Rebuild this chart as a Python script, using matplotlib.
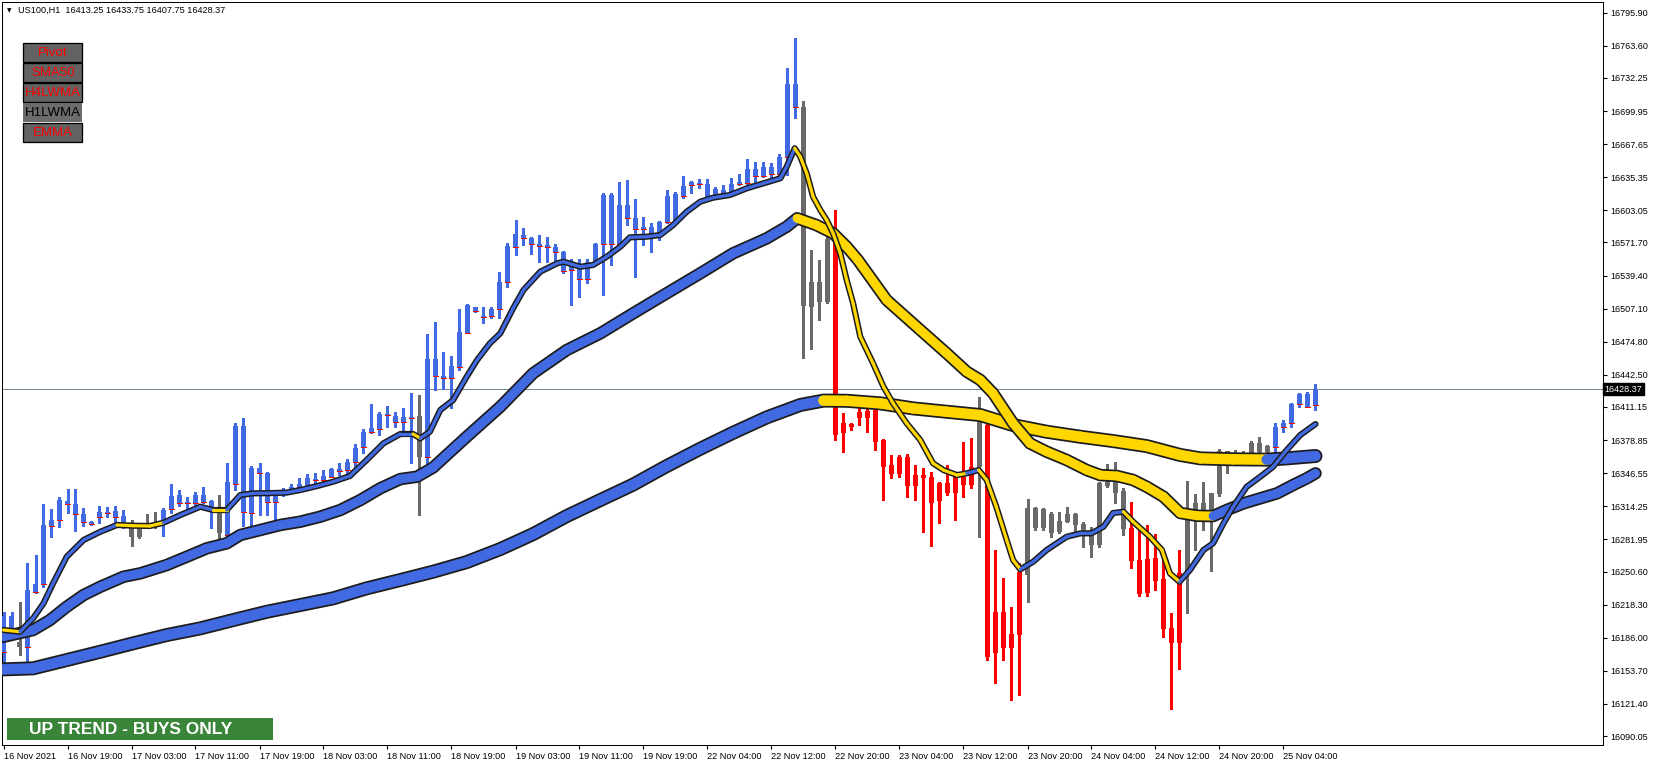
import matplotlib
matplotlib.use("Agg")
import matplotlib.pyplot as plt
from matplotlib.patches import Rectangle
from matplotlib.collections import LineCollection
from matplotlib.transforms import blended_transform_factory
import numpy as np

# ---------------- data (US100, H1) ----------------
opens = [16172.5, 16207.5, 16182.1, 16177.2, 16230.9, 16238.4, 16295.3, 16300.8, 16316.2, 16316.4,
         16306.7, 16296.9, 16304.1, 16307.9, 16304.1, 16305.0, 16292.7, 16292.7, 16297.6, 16297.9,
         16299.9, 16311.3, 16317.1, 16317.7, 16317.7, 16318.7, 16319.4, 16307.4, 16286.2, 16336.0,
         16392.9, 16307.4, 16351.3, 16347.0, 16318.1, 16327.9, 16330.8, 16332.7, 16334.0, 16339.9,
         16339.9, 16343.1, 16348.6, 16349.6, 16357.7, 16371.8, 16386.4, 16389.3, 16403.3, 16402.3,
         16396.2, 16400.1, 16402.3, 16362.0, 16457.7, 16441.7, 16439.7, 16450.4, 16483.6, 16508.4,
         16499.9, 16499.9, 16506.7, 16533.4, 16567.5, 16578.9, 16576.3, 16569.9, 16569.2, 16567.0,
         16562.1, 16544.8, 16549.7, 16535.7, 16552.9, 16570.2, 16618.0, 16569.9, 16608.2, 16595.3,
         16584.5, 16586.5, 16582.2, 16591.9, 16592.9, 16617.5, 16627.8, 16629.4, 16628.7, 16615.8,
         16622.9, 16620.4, 16628.5, 16630.2, 16643.2, 16637.0, 16645.3, 16638.2, 16655.4, 16726.3,
         16703.6, 16509.0, 16533.4, 16513.9, 16574.1, 16395.2, 16394.5, 16400.1, 16407.2, 16408.2,
         16378.9, 16354.5, 16345.7, 16362.6, 16334.3, 16344.7, 16343.1, 16336.6, 16336.6, 16326.9,
         16343.1, 16335.0, 16352.8, 16393.5, 16170.7, 16211.3, 16175.6, 16188.6, 16247.2, 16312.2,
         16292.7, 16306.7, 16289.4, 16299.2, 16306.4, 16296.9, 16289.4, 16276.4, 16338.2, 16327.5,
         16329.1, 16292.8, 16261.8, 16229.9, 16264.2, 16243.3, 16195.4, 16181.1, 16248.8, 16305.7,
         16317.7, 16308.9, 16326.2, 16368.2, 16363.3, 16366.2, 16366.5, 16375.7, 16367.5, 16371.8,
         16391.3, 16395.2, 16414.0, 16423.8, 16413.25]
highs = [16211.0, 16211.0, 16221.1, 16258.6, 16266.7, 16316.4, 16311.6, 16323.0, 16331.1, 16331.1,
         16312.2, 16299.5, 16314.5, 16313.8, 16314.8, 16310.6, 16300.8, 16297.6, 16306.4, 16308.3,
         16312.2, 16336.0, 16330.1, 16323.6, 16328.5, 16332.7, 16320.3, 16325.2, 16356.8, 16395.2,
         16400.1, 16353.5, 16356.2, 16348.0, 16328.5, 16332.0, 16335.7, 16341.5, 16345.7, 16347.0,
         16349.6, 16351.9, 16356.2, 16360.1, 16374.7, 16389.3, 16413.7, 16406.5, 16412.1, 16406.5,
         16409.8, 16424.5, 16422.8, 16482.4, 16493.8, 16465.1, 16460.9, 16506.7, 16511.6, 16509.0,
         16509.0, 16509.0, 16543.2, 16570.9, 16593.6, 16586.1, 16577.3, 16578.9, 16576.7, 16570.2,
         16563.0, 16555.5, 16555.5, 16555.2, 16571.5, 16620.2, 16620.2, 16630.4, 16632.6, 16613.8,
         16596.8, 16591.0, 16592.9, 16622.9, 16620.6, 16636.5, 16631.9, 16633.3, 16633.6, 16625.5,
         16627.8, 16634.3, 16638.5, 16653.1, 16649.9, 16649.9, 16648.9, 16657.8, 16741.6, 16770.9,
         16709.7, 16564.3, 16554.6, 16577.3, 16603.4, 16405.0, 16395.2, 16411.4, 16411.4, 16409.8,
         16379.6, 16364.3, 16364.3, 16365.0, 16354.5, 16351.3, 16348.0, 16338.2, 16354.5, 16346.4,
         16377.2, 16381.1, 16421.2, 16396.8, 16271.6, 16243.9, 16216.2, 16258.6, 16321.0, 16313.8,
         16312.2, 16308.9, 16308.9, 16313.8, 16307.4, 16299.2, 16294.3, 16338.2, 16355.2, 16357.1,
         16331.8, 16318.1, 16291.1, 16296.0, 16287.2, 16265.0, 16209.8, 16271.6, 16338.9, 16326.2,
         16337.6, 16327.5, 16370.1, 16368.5, 16369.0, 16368.0, 16377.9, 16382.1, 16374.0, 16395.2,
         16398.4, 16415.3, 16424.5, 16425.8, 16433.75]
lows = [16162.3, 16186.7, 16169.1, 16154.4, 16229.6, 16235.7, 16284.5, 16294.3, 16307.4, 16290.4,
        16295.3, 16296.0, 16297.6, 16304.1, 16299.2, 16293.0, 16275.8, 16283.0, 16292.7, 16292.7,
        16285.5, 16307.4, 16314.5, 16307.4, 16315.5, 16317.1, 16292.7, 16281.3, 16284.5, 16330.1,
        16295.3, 16294.3, 16305.7, 16305.7, 16299.2, 16324.0, 16330.1, 16331.8, 16333.3, 16336.6,
        16339.2, 16342.5, 16344.7, 16347.0, 16352.8, 16366.5, 16385.4, 16383.8, 16391.9, 16391.9,
        16386.0, 16356.2, 16305.7, 16354.5, 16427.7, 16428.4, 16409.8, 16447.2, 16483.0, 16504.1,
        16492.8, 16497.7, 16497.7, 16527.9, 16559.4, 16569.2, 16560.1, 16552.9, 16552.9, 16552.9,
        16541.6, 16510.7, 16518.8, 16532.4, 16552.9, 16520.4, 16549.7, 16569.2, 16588.7, 16537.7,
        16569.2, 16562.7, 16574.1, 16591.0, 16590.4, 16615.1, 16619.7, 16624.5, 16614.8, 16615.4,
        16618.0, 16619.7, 16627.8, 16628.7, 16629.4, 16635.9, 16635.9, 16636.3, 16637.5, 16693.4,
        16458.6, 16467.7, 16496.0, 16512.3, 16378.9, 16367.2, 16388.7, 16393.5, 16387.0, 16369.1,
        16320.3, 16341.5, 16343.1, 16323.0, 16320.3, 16289.4, 16275.8, 16298.2, 16325.2, 16300.8,
        16323.6, 16331.8, 16284.5, 16164.2, 16141.5, 16164.2, 16125.2, 16130.0, 16221.1, 16291.1,
        16291.1, 16284.5, 16287.8, 16299.2, 16287.8, 16274.8, 16265.0, 16274.8, 16333.3, 16317.1,
        16286.2, 16253.7, 16227.0, 16227.0, 16232.5, 16186.7, 16116.1, 16155.1, 16209.8, 16271.6,
        16291.1, 16251.4, 16324.3, 16347.0, 16358.0, 16358.0, 16365.9, 16365.9, 16366.9, 16368.5,
        16387.0, 16391.9, 16410.8, 16410.8, 16407.75]
closes = [16207.1, 16193.5, 16177.2, 16232.5, 16238.4, 16296.0, 16300.8, 16320.3, 16319.4, 16306.7,
          16299.2, 16298.6, 16308.3, 16308.9, 16309.6, 16297.6, 16284.5, 16284.5, 16294.3, 16295.0,
          16310.6, 16324.3, 16325.2, 16318.2, 16325.2, 16325.2, 16313.5, 16287.8, 16338.2, 16392.9,
          16308.3, 16351.3, 16346.4, 16318.1, 16327.9, 16330.1, 16332.7, 16336.0, 16341.5, 16340.8,
          16343.8, 16350.6, 16350.3, 16357.1, 16371.4, 16386.4, 16390.3, 16404.3, 16404.3, 16396.2,
          16401.1, 16401.4, 16362.6, 16457.7, 16441.7, 16439.7, 16451.1, 16484.6, 16510.7, 16505.1,
          16499.2, 16506.7, 16533.4, 16568.5, 16579.9, 16575.7, 16569.9, 16568.5, 16567.0, 16562.1,
          16544.1, 16549.7, 16535.7, 16552.9, 16570.2, 16618.0, 16569.9, 16608.2, 16595.3, 16584.5,
          16586.5, 16581.2, 16591.9, 16617.0, 16618.7, 16626.8, 16630.7, 16628.4, 16615.6, 16623.9,
          16620.0, 16628.7, 16630.4, 16643.2, 16636.8, 16645.3, 16638.2, 16655.4, 16726.3, 16703.6,
          16509.7, 16532.8, 16513.9, 16575.1, 16383.8, 16385.4, 16391.9, 16406.5, 16400.1, 16377.2,
          16352.8, 16345.4, 16362.6, 16334.3, 16344.7, 16341.5, 16317.7, 16319.7, 16326.9, 16343.1,
          16335.0, 16352.8, 16396.8, 16167.4, 16211.3, 16175.6, 16189.6, 16250.4, 16312.2, 16292.7,
          16311.3, 16288.4, 16300.2, 16306.4, 16296.0, 16291.1, 16276.4, 16336.6, 16334.0, 16338.2,
          16292.1, 16260.8, 16228.6, 16262.8, 16241.6, 16194.2, 16181.1, 16248.8, 16300.8, 16317.7,
          16308.9, 16327.5, 16368.2, 16363.3, 16366.2, 16362.0, 16375.7, 16366.9, 16373.1, 16391.3,
          16395.2, 16414.0, 16423.8, 16411.4, 16428.37]
# candle colouring state: b = up-trend bar, r = down-trend bar, g = neutral bar
bar_state = list("bb" "g" "bbbbbbbbbbbbb" "gggg" "bbbbbbb" "g"
                 "bbbbbbbbbbbbbbbbbbbbbbbb" "g"
                 "bbbbbbbbbbbbbbbbbbbbbbbbbbbbbbbbbbbbbbbbbbbbbbb" "gggg"
                 "rrrrrrrrrrrrrrrrrr" "g" "rrrrr" "ggggggggggggg" "rrrrrrr"
                 "ggggggggggg" "bbbbbb")

time_labels = ["16 Nov 2021", "16 Nov 19:00", "17 Nov 03:00", "17 Nov 11:00", "17 Nov 19:00",
               "18 Nov 03:00", "18 Nov 11:00", "18 Nov 19:00", "19 Nov 03:00", "19 Nov 11:00",
               "19 Nov 19:00", "22 Nov 04:00", "22 Nov 12:00", "22 Nov 20:00", "23 Nov 04:00",
               "23 Nov 12:00", "23 Nov 20:00", "24 Nov 04:00", "24 Nov 12:00", "24 Nov 20:00",
               "25 Nov 04:00"]
price_ticks = [16795.90, 16763.60, 16732.25, 16699.95, 16667.65, 16635.35, 16603.05, 16571.70,
               16539.40, 16507.10, 16474.80, 16442.50, 16411.15, 16378.85, 16346.55, 16314.25,
               16281.95, 16250.60, 16218.30, 16186.00, 16153.70, 16121.40, 16090.05]
last_price = 16428.37

# moving averages (bar position, value) and bar ranges where they were falling
fast_ma_bar = [0, 2.06, 3.7, 5.0, 6.2, 7.9, 10.0, 12.1, 14.2, 16.2, 18.3, 20.0, 22.1, 24.6, 26.2,
               27.9, 29.6, 31.2, 32.9, 34.2, 35.4, 37.1, 39.2, 41.2, 43.3, 45.4, 47.5, 49.6, 51.2,
               52.1, 53.3, 54.6, 56.2, 57.9, 59.2, 60.8, 62.1, 63.7, 65.0, 67.1, 69.2, 70.0, 72.1,
               73.7, 75.4, 77.1, 78.3, 80.4, 82.1, 83.7, 85.4, 87.1, 88.7, 90.8, 92.9, 95.0, 97.1,
               97.9, 98.9, 99.6, 100.4, 101.2, 102.1, 102.9, 103.7, 104.6, 105.4, 106.2, 107.1,
               108.7, 110.0, 111.2, 112.9, 114.6, 116.2, 117.5, 119.2, 120.4, 121.9, 122.9, 124.1,
               125.4, 126.2, 127.1, 128.7, 130.4, 132.9, 134.6, 136.0, 137.5, 138.7, 140.0, 141.2,
               143.3, 144.8, 145.8, 147.0, 148.3, 150.0, 151.2, 152.5, 153.7, 155.4, 157.1, 158.7,
               160.4, 162.1, 164.0]
fast_ma_val = [16193.5, 16191.8, 16204.9, 16219.5, 16239.1, 16265.0, 16281.3, 16289.4, 16296.0,
               16295.3, 16295.0, 16298.2, 16305.7, 16313.8, 16310.6, 16310.6, 16325.2, 16326.9,
               16327.0, 16327.3, 16327.6, 16330.1, 16334.0, 16338.2, 16343.8, 16359.4, 16375.7,
               16384.8, 16384.8, 16380.6, 16387.0, 16408.2, 16417.9, 16440.7, 16457.0, 16473.3,
               16483.0, 16507.4, 16525.3, 16543.2, 16551.3, 16552.9, 16548.0, 16549.7, 16557.8,
               16567.5, 16576.7, 16577.3, 16579.0, 16588.7, 16601.7, 16611.5, 16615.4, 16618.0,
               16624.5, 16629.4, 16634.3, 16645.6, 16663.6, 16655.4, 16639.2, 16616.3, 16603.4,
               16593.6, 16580.6, 16561.1, 16535.0, 16512.3, 16479.7, 16453.7, 16430.9, 16414.7,
               16395.2, 16378.9, 16356.2, 16349.6, 16344.7, 16346.4, 16349.6, 16339.9, 16313.8,
               16281.3, 16261.8, 16252.7, 16260.1, 16271.6, 16284.5, 16287.8, 16287.9, 16294.3,
               16307.7, 16308.9, 16299.2, 16284.5, 16271.6, 16248.8, 16240.6, 16252.0, 16271.6,
               16278.1, 16297.6, 16313.8, 16333.3, 16343.1, 16352.8, 16369.1, 16383.8, 16394.5]
fast_ma_falling = [(0, 2.1), (15.0, 19.2), (25.8, 27.1), (50.8, 52.1), (98.9, 121.1),
                   (122.1, 127.1), (140.0, 147.0)]

mid_ma_bar = [0, 3.7, 5.8, 7.9, 10.0, 12.1, 15.0, 17.1, 20.4, 22.9, 25.4, 27.9, 29.6, 32.1, 34.6,
              37.1, 39.6, 42.1, 44.6, 47.1, 49.6, 51.7, 53.7, 57.9, 62.1, 66.2, 70.4, 74.6, 78.7,
              82.9, 87.1, 91.2, 95.4, 97.9, 99.2, 101.6, 103.7, 105.4, 106.8, 110.4, 114.6, 117.9,
              120.4, 122.1, 123.7, 126.2, 128.3, 130.4, 132.9, 135.4, 137.1, 139.2, 141.2, 142.9,
              145.0, 147.1, 149.2, 151.2, 152.9, 155.0, 157.1, 159.2, 161.2, 162.9, 164.0]
mid_ma_val = [16186.9, 16193.5, 16203.2, 16216.2, 16227.6, 16235.7, 16245.5, 16248.8, 16256.9,
              16265.0, 16273.2, 16278.1, 16286.2, 16291.1, 16296.0, 16299.2, 16304.1, 16310.6,
              16320.3, 16331.8, 16340.8, 16343.1, 16352.1, 16382.1, 16411.4, 16444.0, 16466.7,
              16483.0, 16502.5, 16522.1, 16541.6, 16561.1, 16575.7, 16587.1, 16595.3, 16588.7,
              16580.6, 16567.5, 16554.6, 16515.5, 16486.3, 16463.5, 16445.6, 16437.5, 16424.5,
              16395.2, 16375.7, 16367.5, 16359.4, 16349.6, 16344.7, 16343.8, 16339.9, 16333.3,
              16323.6, 16307.7, 16305.0, 16304.7, 16310.6, 16317.1, 16322.0, 16326.9, 16335.0,
              16341.5, 16346.4]
mid_ma_falling = [(98.7, 151.4)]

slow_ma_bar = [0, 3.7, 7.9, 12.1, 16.2, 20.4, 24.6, 28.7, 32.9, 37.1, 41.2, 45.4, 49.6, 53.7,
               57.9, 62.1, 66.2, 70.4, 74.6, 78.7, 82.9, 87.1, 91.2, 95.4, 99.6, 102.5, 105.4,
               109.6, 113.7, 117.9, 122.1, 126.2, 130.4, 134.6, 138.7, 142.9, 147.1, 149.6, 153.7,
               157.9, 160.4, 162.9, 164.0]
slow_ma_val = [16155.1, 16156.1, 16164.2, 16172.3, 16180.5, 16188.6, 16195.1, 16203.2, 16211.3,
               16217.9, 16224.4, 16234.2, 16242.3, 16250.4, 16259.8, 16272.5, 16287.1, 16304.7,
               16320.3, 16335.4, 16353.5, 16370.4, 16386.0, 16401.0, 16413.1, 16417.4, 16417.2,
               16414.7, 16409.8, 16406.5, 16403.3, 16393.5, 16387.0, 16382.1, 16377.9, 16373.0,
               16364.3, 16361.0, 16360.1, 16359.8, 16361.0, 16362.6, 16363.3]
slow_ma_falling = [(102.5, 158.0)]

buttons = ["Pivot", "SMA50", "H4LWMA", "H1LWMA", "EMMA"]
active_button = "H1LWMA"
symbol_title = "US100,H1  16413.25 16433.75 16407.75 16428.37"
trend_text = "UP TREND - BUYS ONLY"

# ---------------- styling ----------------
plt.rcParams['font.family'] = ['Liberation Sans', 'DejaVu Sans']
BLUE = '#4169E1'
RED = '#FF0000'
GRAY = '#696969'
YELLOW = '#FFD700'
OUTLINE = '#1c1c1c'
state_color = {'b': BLUE, 'r': RED, 'g': GRAY}

W, H = 1654, 761
PX = 0.72  # points per pixel at 100 dpi
fig = plt.figure(figsize=(W / 100, H / 100), dpi=100)
fig.patch.set_facecolor('white')

L_px, R_px, T_px, B_px = 2, 1603, 2, 745
ax = fig.add_axes([L_px / W, 1 - B_px / H, (R_px - L_px) / W, (B_px - T_px) / H])
bar_px, first_px = 8.0, 3.5
ax.set_xlim((L_px - first_px) / bar_px, (R_px - first_px) / bar_px)
ax.set_ylim(16081.3, 16806.35)
ax.set_facecolor('white')

n = len(opens)
x = np.arange(n)
o = np.array(opens)
c = np.array(closes)
body_lo = np.minimum(o, c)
body_hi = np.maximum(o, c)
body_h = np.maximum(body_hi - body_lo, 1.0)
cols = [state_color[s] for s in bar_state]

# price line
ax.axhline(last_price, color='#778899', lw=1.0 * PX, zorder=1)

# candles
ax.vlines(x, lows, highs, colors=cols, linewidth=1.05 * PX, antialiased=False, zorder=2)
ax.bar(x, body_h, bottom=body_lo, width=5 / bar_px, color=cols, linewidth=0,
       antialiased=False, zorder=3)
bi = np.array([i for i, s in enumerate(bar_state) if s == 'b'])
ax.hlines(body_lo[bi], bi - 2.4 / bar_px, bi + 2.4 / bar_px, colors=RED,
          linewidth=0.95 * PX, antialiased=False, zorder=4)


def draw_ma(bars, vals, spans, total_px, core_px, z):
    bars = np.asarray(bars, float)
    vals = np.asarray(vals, float)
    ax.plot(bars, vals, color=OUTLINE, lw=total_px * PX, solid_capstyle='round',
            solid_joinstyle='round', zorder=z)
    pts = np.column_stack([bars, vals])
    segs = np.stack([pts[:-1], pts[1:]], axis=1)
    mids = (bars[:-1] + bars[1:]) / 2
    seg_cols = [YELLOW if any(a <= m <= b for a, b in spans) else BLUE for m in mids]
    lc = LineCollection(segs, colors=seg_cols, linewidths=core_px * PX,
                        capstyle='round', joinstyle='round', zorder=z + 0.1)
    ax.add_collection(lc)


draw_ma(slow_ma_bar, slow_ma_val, slow_ma_falling, 14.0, 10.5, 5)
draw_ma(mid_ma_bar, mid_ma_val, mid_ma_falling, 12.5, 9.0, 6)
draw_ma(fast_ma_bar, fast_ma_val, fast_ma_falling, 6.2, 3.2, 7)

# axes / ticks
for sp in ax.spines.values():
    sp.set_color('black')
    sp.set_linewidth(1.0 * PX)
ax.yaxis.tick_right()
ax.set_yticks(price_ticks)
ax.set_yticklabels([f"{v:.2f}" for v in price_ticks])
ax.tick_params(axis='y', direction='out', length=3, width=0.8, labelsize=6.5, pad=2,
               colors='black')
ax.set_xticks(np.arange(0, 8 * len(time_labels), 8))
ax.set_xticklabels(time_labels)
ax.tick_params(axis='x', direction='out', length=3.2, width=0.8, labelsize=6.6, pad=1.5)
for lab in ax.get_xticklabels():
    lab.set_horizontalalignment('left')

# current price box
tr = blended_transform_factory(ax.transAxes, ax.transData)
ax.text(1.0008, last_price, f"{last_price:.2f}", transform=tr, va='center', ha='left',
        color='white', fontsize=6.5, zorder=10,
        bbox=dict(boxstyle='square,pad=0.18', fc='black', ec='black'))


def fx(px):
    return px / W


def fy(py):
    return 1 - py / H


# title
fig.text(fx(6.5), fy(10.3), "\u25BC", fontsize=4.2, family='DejaVu Sans', va='center',
         ha='left', color='black')
fig.text(fx(18), fy(10.3), symbol_title, fontsize=6.6, va='center', ha='left', color='black')

# indicator buttons
for k, name in enumerate(buttons):
    top = 43.3 + 20 * k
    active = (name == active_button)
    rect = Rectangle((fx(23.3), fy(top + 19)), fx(59), 19 / H, transform=fig.transFigure,
                     facecolor='#6c6c6c' if active else '#636363',
                     edgecolor='none' if active else 'black', linewidth=1.3 * PX)
    fig.add_artist(rect)
    fig.text(fx(52.8), fy(top + 9.8), name, fontsize=9.5, ha='center', va='center',
             color='black' if active else RED)

# trend banner
fig.add_artist(Rectangle((fx(6.9), fy(739.8)), fx(265.6), 21.4 / H, transform=fig.transFigure,
                         facecolor='#3A853A', edgecolor='none'))
fig.text(fx(28.5), fy(729.2), trend_text, fontsize=12.5, fontweight='bold', color='white',
         ha='left', va='center')

fig.savefig("out.png", dpi=100, facecolor='white')
